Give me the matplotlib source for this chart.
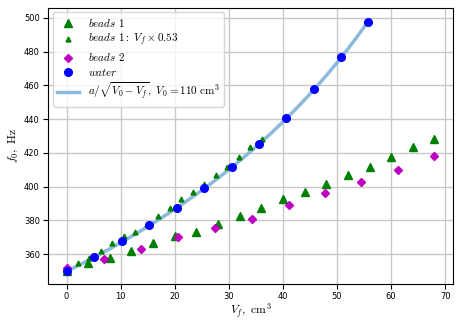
import numpy as np
import matplotlib
matplotlib.use('Agg')
import matplotlib.pyplot as plt

plt.rcParams['mathtext.fontset'] = 'cm'

# beads 1 (triangles)
beads1_v = [0, 4, 8, 12, 16, 20, 24, 28, 32, 36, 40, 44, 48, 52, 56, 60, 64, 68]
beads1_f = [350.0, 354.8, 358.0, 361.8, 366.7, 370.9, 373.2, 377.6, 382.5, 387.5,
            392.5, 396.7, 401.5, 406.9, 411.6, 417.4, 423.7, 428.4]
scale = 0.53

# beads 2 (diamonds)
beads2_v = [0, 7.0, 13.8, 20.6, 27.5, 34.2, 41.1, 47.8, 54.5, 61.3, 68]
beads2_f = [351.9, 357.0, 363.2, 370.3, 375.6, 381.0, 389.1, 396.0, 402.7, 410.0, 418.2]

# water (circles)
water_v = [0, 5.1, 10.2, 15.3, 20.4, 25.5, 30.5, 35.5, 40.6, 45.7, 50.8, 55.8]
water_f = [350.1, 358.2, 367.7, 377.0, 387.5, 399.3, 411.8, 425.1, 440.9, 458.1, 476.7, 497.5]

# fit a/sqrt(V0 - Vf)
a = 3668.0
V0 = 110.0

fig = plt.figure(figsize=(4.63, 3.27), dpi=100)
ax = fig.add_axes([0.104, 0.131, 0.874, 0.845])

ax.plot(beads1_v, beads1_f, '^', color='g', ms=6, label=r'$beads\ 1$', zorder=3)
ax.plot(np.array(beads1_v) * scale, beads1_f, '^', color='g', ms=3.5,
        label=r'$beads\ 1:\ V_f \times 0.53$', zorder=3)
ax.plot(beads2_v, beads2_f, 'D', color='m', ms=4.5, label=r'$beads\ 2$', zorder=3)
ax.plot(water_v, water_f, 'o', color='b', ms=5.5, label=r'$water$', zorder=3)

vv = np.linspace(0, max(water_v), 200)
ax.plot(vv, a / np.sqrt(V0 - vv), color='#8cbadb', lw=2.5,
        label=r'$a/\sqrt{V_0 - V_f},\ V_0 = 110\ \mathrm{cm}^3$', zorder=2)

ax.set_xlim(-3.4, 71.4)
ax.set_ylim(342.2, 506)
ax.set_xticks(np.arange(0, 71, 10))
ax.set_yticks(np.arange(360, 501, 20))
ax.tick_params(labelsize=6, pad=2.5)
ax.grid(True, color='#c8c8c8', lw=1)
ax.set_axisbelow(True)

ax.set_xlabel(r'$V_f,\ \mathrm{cm}^3$', fontsize=8.5, labelpad=0)
ax.set_ylabel(r'$f_0,\ \mathrm{Hz}$', fontsize=8.5, labelpad=3)
ax.legend(loc='upper left', fontsize=8, labelspacing=0.28, borderaxespad=0.4)

fig.savefig('out.png', dpi=100)
